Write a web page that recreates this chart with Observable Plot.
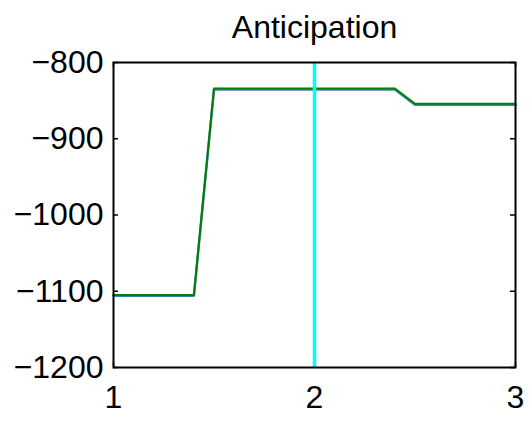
<!DOCTYPE html>
<html>
<head>
<meta charset="utf-8">
<script src="https://cdn.jsdelivr.net/npm/d3@7"></script>
<script src="https://cdn.jsdelivr.net/npm/@observablehq/plot@0.6"></script>
<style>
  html, body { margin: 0; padding: 0; background: #fff; }
  #chart svg { display: block; }
</style>
</head>
<body>
<div id="chart"></div>
<script>
const title = "Anticipation";
const xValues = [1, 1.4, 1.5, 2.4, 2.5, 3];
const greenValues = [-1105, -1105, -834, -834, -854, -854];
const blueValues = [-1106, -1106, -835.5, -835.5, -855.5, -855.5];
const markerX = [2];
const xTicks = [1, 2, 3];
const yTicks = [-1200, -1100, -1000, -900, -800];

const W = 532, H = 424;
const mL = 113, mR = 17, mT = 62, mB = 57;
const innerW = W - mL - mR, innerH = H - mT - mB;
const tickLen = 5;

const green = xValues.map((x, i) => ({x, y: greenValues[i]}));
const blue = xValues.map((x, i) => ({x, y: blueValues[i]}));

const fmt = d => d < 0 ? "\u2212" + Math.abs(d) : String(d);

const chart = Plot.plot({
  width: W,
  height: H,
  marginLeft: mL,
  marginRight: mR,
  marginTop: mT,
  marginBottom: mB,
  style: {fontFamily: "'Liberation Sans', Arial, sans-serif", fontSize: "32px", background: "#fff", color: "#000", overflow: "visible"},
  x: {domain: [1, 3]},
  y: {domain: [-1200, -800]},
  marks: [
    Plot.axisX(xTicks, {tickSize: 0, tickPadding: 18, label: null, fontSize: 32, tickFormat: fmt}),
    Plot.axisY(yTicks, {tickSize: 0, tickPadding: 10, label: null, fontSize: 32, tickFormat: fmt}),
    Plot.tickY(yTicks, {y: d => d, insetRight: innerW - tickLen, stroke: "#000", strokeWidth: 1.5}),
    Plot.tickY(yTicks, {y: d => d, insetLeft: innerW - tickLen, stroke: "#000", strokeWidth: 1.5}),
    Plot.tickX(xTicks, {x: d => d, insetTop: innerH - tickLen, stroke: "#000", strokeWidth: 1.5}),
    Plot.tickX(xTicks, {x: d => d, insetBottom: innerH - tickLen, stroke: "#000", strokeWidth: 1.5}),
    Plot.line(blue, {x: "x", y: "y", stroke: "#4682b4", strokeWidth: 2.5}),
    Plot.line(green, {x: "x", y: "y", stroke: "#007f00", strokeWidth: 2}),
    Plot.ruleX(markerX, {x: d => d, stroke: "#00ffff", strokeWidth: 3.5}),
    Plot.frame({stroke: "#000", strokeWidth: 2}),
    Plot.text([title], {text: d => d, frameAnchor: "top", dy: -35, lineAnchor: "middle", fontSize: 32, fill: "#000"})
  ]
});
document.getElementById("chart").appendChild(chart);
</script>
</body>
</html>
